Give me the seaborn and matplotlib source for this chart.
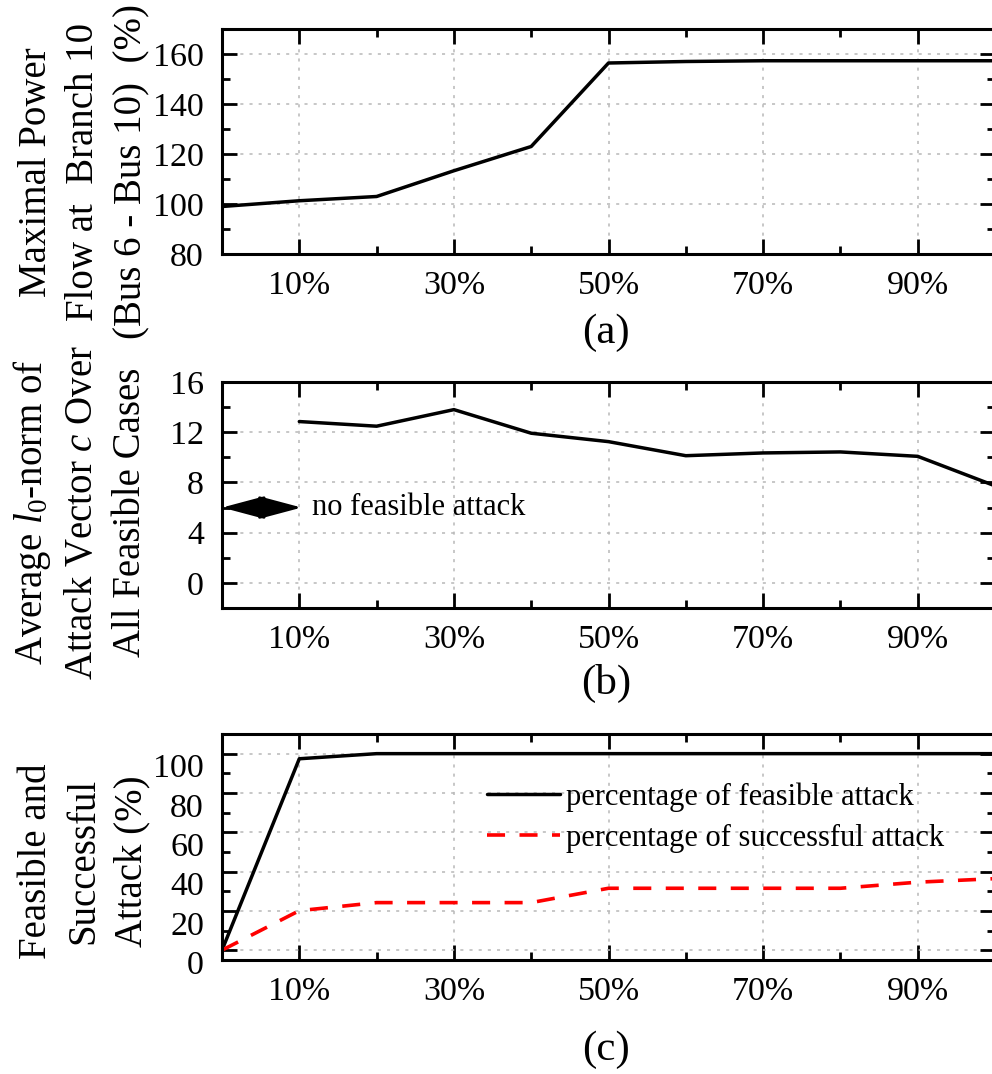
import numpy as np
import pandas as pd
import matplotlib
matplotlib.use("Agg")
import matplotlib.pyplot as plt
import matplotlib.transforms as mtransforms
from matplotlib.ticker import MultipleLocator, FixedLocator, FixedFormatter
import seaborn as sns

# ---------------- data ----------------
attack_pct = [0, 10, 20, 30, 40, 50, 60, 70, 80, 90, 100]
max_flow = [99, 101.3, 103, 113.3, 123, 156.4, 157, 157.3, 157.3, 157.3, 157.3]

l0_pct = [10, 20, 30, 40, 50, 60, 70, 80, 90, 100]
l0_norm = [12.85, 12.48, 13.8, 11.92, 11.25, 10.13, 10.35, 10.43, 10.08, 7.73]

feasible = [0, 97.4, 100, 100, 100, 100, 100, 100, 100, 100, 100]
successful = [0, 20.1, 24.2, 24.2, 24.2, 31.5, 31.5, 31.5, 31.5, 34.6, 36.4]

xtick_vals = [10, 30, 50, 70, 90]
xtick_labels = ["10%", "30%", "50%", "70%", "90%"]

# ---------------- style ----------------
sns.set_theme(style="white")
plt.rcParams["font.family"] = ["Liberation Serif", "DejaVu Serif"]
plt.rcParams["mathtext.fontset"] = "custom"
plt.rcParams["mathtext.rm"] = "Liberation Serif"
plt.rcParams["mathtext.it"] = "Liberation Serif:italic"
for k in ["text.color", "axes.labelcolor", "xtick.color", "ytick.color"]:
    plt.rcParams[k] = "black"

W, H, DPI = 992, 1074, 100
fig = plt.figure(figsize=(W / DPI, H / DPI), dpi=DPI)
fig.patch.set_facecolor("white")


def pos(l, t, r, b):
    return [l / W, 1 - b / H, (r - l) / W, (b - t) / H]


TICK_FS = 24.5
LAB_FS = 28
LW = 2.5
grid_kw = dict(color="#b8b8b8", linestyle=(0, (2, 4)), linewidth=1.1)


def style_axes(ax, ylim, ymajor, yminor):
    ax.set_facecolor("white")
    ax.set_xlim(0, 100)
    ax.set_ylim(*ylim)
    for s in ax.spines.values():
        s.set_visible(True)
        s.set_color("black")
        s.set_linewidth(2.2)
    ax.xaxis.set_major_locator(FixedLocator(xtick_vals))
    ax.xaxis.set_major_formatter(FixedFormatter(xtick_labels))
    ax.xaxis.set_minor_locator(FixedLocator([20, 40, 60, 80]))
    ax.yaxis.set_major_locator(MultipleLocator(ymajor))
    ax.yaxis.set_minor_locator(MultipleLocator(yminor))
    ax.tick_params(which="both", direction="in", top=True, right=True,
                   bottom=True, left=True, color="black", labelcolor="black")
    ax.tick_params(which="major", length=11, width=2.0, labelsize=TICK_FS, pad=12)
    ax.tick_params(which="minor", length=5.5, width=2.0)
    ax.tick_params(axis="y", which="major", pad=13)
    ax.grid(True, which="major", **grid_kw)
    ax.set_axisbelow(True)
    ax.set_xlabel("")
    ax.set_ylabel("")


# ---------------- panel (a) ----------------
ax_a = fig.add_axes(pos(222, 29, 995, 254))
sns.lineplot(x=attack_pct, y=max_flow, ax=ax_a, color="black", linewidth=LW)
style_axes(ax_a, (80, 170), 20, 10)

# ---------------- panel (b) ----------------
ax_b = fig.add_axes(pos(222, 382, 995, 608))
sns.lineplot(x=l0_pct, y=l0_norm, ax=ax_b, color="black", linewidth=LW)
style_axes(ax_b, (-2, 16), 4, 2)
arrow_kw = dict(arrowstyle="-|>,head_length=1.2,head_width=0.32",
                color="black", lw=2.0, mutation_scale=22, shrinkA=0, shrinkB=0)
ax_b.annotate("", xy=(0, 6), xytext=(5.6, 6), arrowprops=arrow_kw)
ax_b.annotate("", xy=(10.3, 6), xytext=(5.9, 6), arrowprops=arrow_kw)
ax_b.text(11.6, 6, "no feasible attack", fontsize=22, va="center", ha="left")

# ---------------- panel (c) ----------------
ax_c = fig.add_axes(pos(222, 734, 995, 960))
sns.lineplot(x=attack_pct, y=feasible, ax=ax_c, color="black", linewidth=LW,
             label="percentage of feasible attack")
sns.lineplot(x=attack_pct, y=successful, ax=ax_c, color="#ff0000", linewidth=2.6,
             linestyle=(0, (5, 4)), label="percentage of successful attack")
style_axes(ax_c, (-5, 110), 20, 10)
offset = mtransforms.ScaledTranslation(0, -12 / DPI, fig.dpi_scale_trans)
for lab in ax_c.get_yticklabels():
    lab.set_transform(lab.get_transform() + offset)
ax_c.legend(loc="upper left", bbox_to_anchor=(487 / W, 1 - 782 / H),
            bbox_transform=fig.transFigure, frameon=False, fontsize=22,
            handlelength=2.4, handletextpad=0.2, labelspacing=0.4,
            borderpad=0, borderaxespad=0)

# ---------------- y labels & panel tags ----------------
ylab_kw = dict(rotation=90, ha="center", va="center", multialignment="center",
               fontsize=LAB_FS, linespacing=1.38)
fig.text(84 / W, 1 - 172 / H, "Maximal Power\nFlow at  Branch 10\n(Bus 6 - Bus 10)  (%)",
         **ylab_kw)
fig.text(80 / W, 1 - 512 / H,
         "Average $l_0$-norm of\nAttack Vector $c$ Over\nAll Feasible Cases",
         **ylab_kw)
fig.text(84 / W, 1 - 861 / H, "Feasible and\nSuccessful\nAttack (%)", **ylab_kw)

for tag, y in [("(a)", 333), ("(b)", 683), ("(c)", 1050)]:
    fig.text(606 / W, 1 - y / H, tag, ha="center", va="center", fontsize=31)

fig.savefig("out.png", dpi=DPI, facecolor="white")
